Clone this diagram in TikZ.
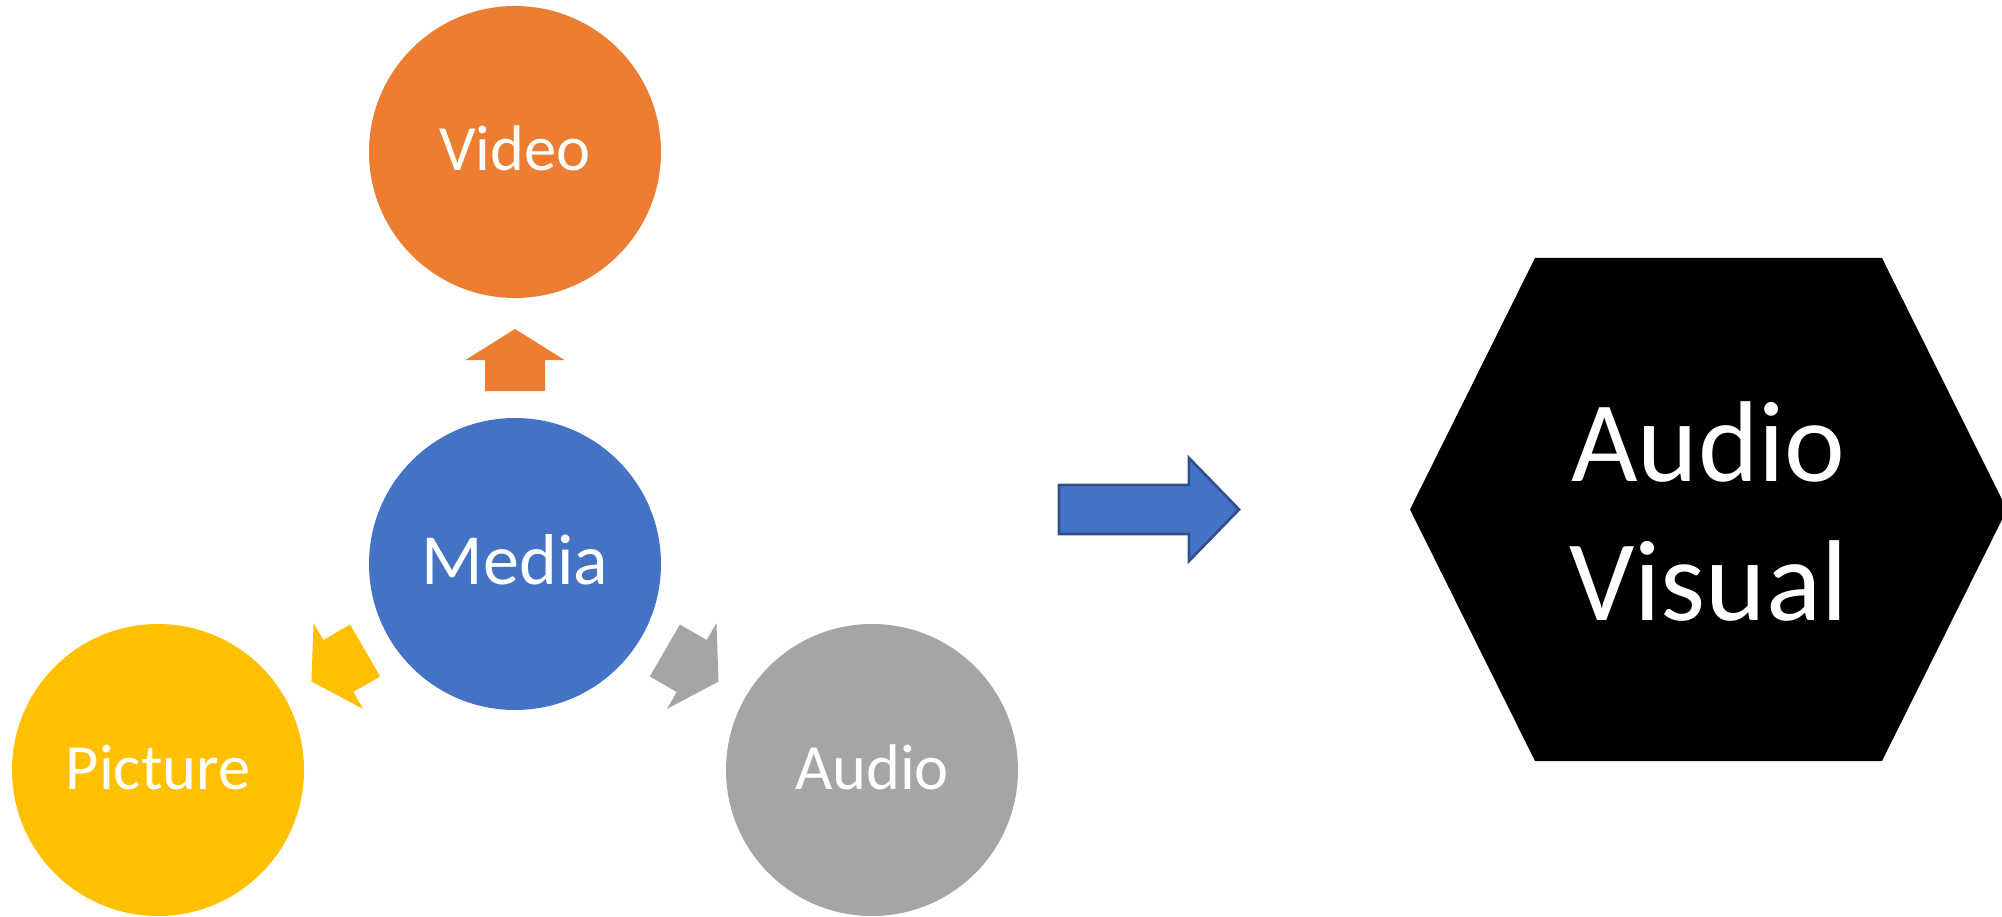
\documentclass[tikz,border=0pt]{standalone}
\usepackage{fontspec}
\setmainfont{Carlito}
\definecolor{vorange}{HTML}{ED7D31}
\definecolor{vblue}{HTML}{4472C4}
\definecolor{vgold}{HTML}{FFC000}
\definecolor{vgray}{HTML}{A5A5A5}
\definecolor{vblueline}{HTML}{2F528F}
\begin{document}
\begin{tikzpicture}[x=1pt,y=-1pt,
  bubble/.style={circle, minimum size=292pt, inner sep=0pt, text=white,
    font=\fontsize{64.5}{77}\selectfont, text height=38pt, text depth=0pt},
  mediabubble/.style={bubble, font=\fontsize{72}{86}\selectfont, text height=40pt},
  burst/.pic={\path[pic actions] (0,-31) -- (49.5,0) -- (30,0) -- (30,31)
     -- (-30,31) -- (-30,0) -- (-49.5,0) -- cycle;},
  bigarrow/.style={fill=vblue, draw=vblueline, line width=2.7pt, line join=miter},
  hexlabel/.style={text=white, align=center, font=\fontsize{115}{138.4}\selectfont}
]
\useasboundingbox (0,0) rectangle (2002,917);
\clip (0,0) rectangle (2002,917);

% circles
\node[mediabubble, fill=vblue] (media) at (515,564) {Media};
\node[bubble, fill=vorange] (video) at (515,152) {Video};
\node[bubble, fill=vgold] (picture) at (158,770) {Picture};
\node[bubble, fill=vgray] (audio) at (872,770) {Audio};

% outward arrows
\pic[fill=vorange] at (515,360) {burst};
\pic[fill=vgold, rotate=120] at (338.3,666) {burst};
\pic[fill=vgray, rotate=-120] at (691.7,666) {burst};

% block arrow
\draw[bigarrow] (1059,485) -- (1189,485) -- (1189,458) -- (1239,509.5)
  -- (1189,561) -- (1189,534) -- (1059,534) -- cycle;

% hexagon
\coordinate (h1) at (1535,258);
\coordinate (h2) at (1882,258);
\coordinate (h3) at (2007,509.5);
\coordinate (h4) at (1882,761);
\coordinate (h5) at (1535,761);
\coordinate (h6) at (1410,509.5);
\fill[black] (h1) -- (h2) -- (h3) -- (h4) -- (h5) -- (h6) -- cycle;
\node[hexlabel] (av) at (1708.5,511.5) {Audio\\Visual};
\end{tikzpicture}
\end{document}
